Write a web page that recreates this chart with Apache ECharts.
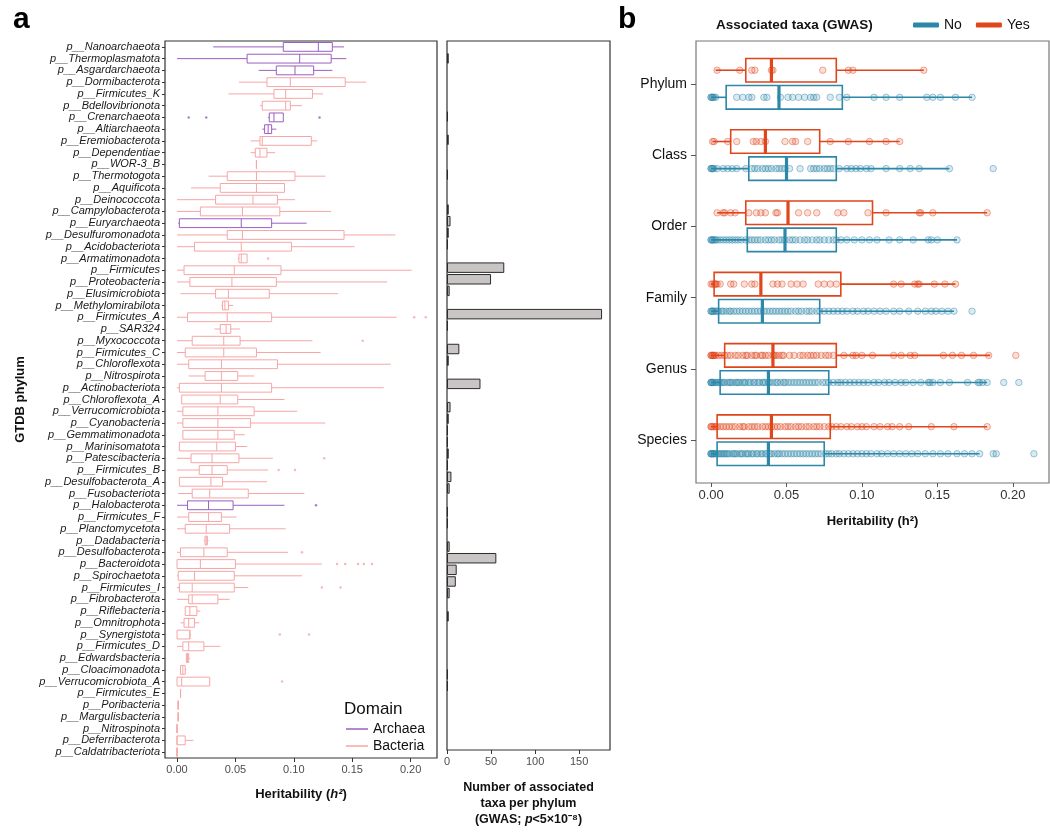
<!DOCTYPE html>
<html><head><meta charset="utf-8">
<script src="https://cdn.jsdelivr.net/npm/echarts@6/dist/echarts.min.js"></script>
<style>html,body{margin:0;padding:0;background:#fff}#c{width:1050px;height:833px}</style>
</head><body><div id="c"></div>
<script>
// ---------- Panel a data ----------
const phyla = ['p__Nanoarchaeota','p__Thermoplasmatota','p__Asgardarchaeota','p__Dormibacterota','p__Firmicutes_K','p__Bdellovibrionota','p__Crenarchaeota','p__Altiarchaeota','p__Eremiobacterota','p__Dependentiae','p__WOR-3_B','p__Thermotogota','p__Aquificota','p__Deinococcota','p__Campylobacterota','p__Euryarchaeota','p__Desulfuromonadota','p__Acidobacteriota','p__Armatimonadota','p__Firmicutes','p__Proteobacteria','p__Elusimicrobiota','p__Methylomirabilota','p__Firmicutes_A','p__SAR324','p__Myxococcota','p__Firmicutes_C','p__Chloroflexota','p__Nitrospirota','p__Actinobacteriota','p__Chloroflexota_A','p__Verrucomicrobiota','p__Cyanobacteria','p__Gemmatimonadota','p__Marinisomatota','p__Patescibacteria','p__Firmicutes_B','p__Desulfobacterota_A','p__Fusobacteriota','p__Halobacterota','p__Firmicutes_F','p__Planctomycetota','p__Dadabacteria','p__Desulfobacterota','p__Bacteroidota','p__Spirochaetota','p__Firmicutes_I','p__Fibrobacterota','p__Riflebacteria','p__Omnitrophota','p__Synergistota','p__Firmicutes_D','p__Edwardsbacteria','p__Cloacimonadota','p__Verrucomicrobiota_A','p__Firmicutes_E','p__Poribacteria','p__Margulisbacteria','p__Nitrospinota','p__Deferribacterota','p__Caldatribacteriota'];
const archaeaPhyla = ['p__Nanoarchaeota','p__Thermoplasmatota','p__Asgardarchaeota','p__Crenarchaeota','p__Altiarchaeota','p__Euryarchaeota','p__Halobacterota'];
const hLow  = [0.031,0.000,0.070,0.053,0.044,0.071,0.078,0.073,0.063,0.063,0.068,0.027,0.012,0.000,0.000,0.001,0.000,0.000,0.052,0.000,0.000,0.003,0.038,0.000,0.032,0.000,0.000,0.000,0.010,0.000,0.004,0.000,0.000,0.005,0.002,0.000,0.000,0.002,0.001,0.000,0.000,0.000,0.023,0.000,0.000,0.000,0.000,0.000,0.007,0.003,0.000,0.000,0.008,0.003,0.000,0.003,0.001,0.001,0.000,0.000,0.000];
const hQ1   = [0.091,0.060,0.085,0.077,0.083,0.073,0.079,0.075,0.071,0.067,0.068,0.043,0.037,0.033,0.020,0.002,0.043,0.015,0.053,0.006,0.011,0.033,0.039,0.009,0.037,0.013,0.007,0.010,0.024,0.002,0.004,0.005,0.005,0.005,0.002,0.012,0.019,0.002,0.013,0.009,0.010,0.007,0.024,0.003,0.000,0.001,0.002,0.010,0.007,0.006,0.000,0.005,0.008,0.003,0.000,0.003,0.001,0.001,0.000,0.000,0.000];
const hMed  = [0.121,0.105,0.101,0.097,0.093,0.093,0.083,0.078,0.073,0.071,0.068,0.068,0.068,0.065,0.056,0.055,0.056,0.055,0.055,0.049,0.047,0.044,0.041,0.043,0.042,0.040,0.040,0.038,0.038,0.038,0.037,0.035,0.035,0.035,0.034,0.030,0.030,0.029,0.028,0.027,0.027,0.025,0.025,0.023,0.020,0.015,0.013,0.013,0.011,0.010,0.011,0.010,0.009,0.005,0.004,0.003,0.001,0.001,0.000,0.000,0.000];
const hQ3   = [0.133,0.132,0.117,0.144,0.116,0.097,0.091,0.081,0.115,0.077,0.068,0.101,0.092,0.086,0.088,0.081,0.143,0.098,0.060,0.089,0.085,0.079,0.044,0.081,0.046,0.054,0.068,0.086,0.052,0.081,0.052,0.066,0.063,0.049,0.050,0.053,0.043,0.039,0.061,0.048,0.038,0.045,0.026,0.043,0.050,0.049,0.049,0.035,0.017,0.015,0.011,0.023,0.010,0.007,0.028,0.003,0.001,0.001,0.000,0.007,0.000];
const hHigh = [0.143,0.145,0.133,0.162,0.125,0.107,0.091,0.085,0.120,0.084,0.068,0.127,0.092,0.101,0.132,0.111,0.187,0.152,0.060,0.201,0.180,0.138,0.048,0.188,0.054,0.116,0.123,0.183,0.066,0.177,0.092,0.103,0.127,0.058,0.060,0.082,0.078,0.077,0.109,0.092,0.051,0.093,0.027,0.095,0.124,0.107,0.061,0.045,0.020,0.019,0.012,0.037,0.011,0.008,0.028,0.003,0.001,0.001,0.000,0.014,0.000];
const hOutliers = [['p__Crenarchaeota',0.010],['p__Crenarchaeota',0.025],['p__Crenarchaeota',0.122],['p__Armatimonadota',0.078],['p__Firmicutes_A',0.203],['p__Firmicutes_A',0.213],['p__Myxococcota',0.159],['p__Patescibacteria',0.126],['p__Firmicutes_B',0.087],['p__Firmicutes_B',0.101],['p__Halobacterota',0.119],['p__Desulfobacterota',0.107],['p__Bacteroidota',0.137],['p__Bacteroidota',0.144],['p__Bacteroidota',0.155],['p__Bacteroidota',0.160],['p__Bacteroidota',0.167],['p__Firmicutes_I',0.124],['p__Firmicutes_I',0.140],['p__Synergistota',0.088],['p__Synergistota',0.113],['p__Verrucomicrobiota_A',0.090]];
const gwasCounts = [0,2,0,0,0,0,1,0,2,0,0,1,0,0,2,4,2,1,0,65,50,3,0,176,1,0,14,2,0,38,0,4,2,1,1,2,1,5,3,0,1,1,0,3,56,11,10,3,0,2,0,0,0,0,1,1,0,0,0,0,0];
const hTicks = [0,0.05,0.10,0.15,0.20];
const countTicks = [0,50,100,150];

// ---------- Panel b data ----------
const levels = ['Phylum','Class','Order','Family','Genus','Species'];
// [low, q1, median, q3, high]
const yesStats = [[0.003,0.023,0.040,0.083,0.141],[0.001,0.013,0.036,0.072,0.125],[0.004,0.023,0.051,0.107,0.183],[0.000,0.002,0.033,0.086,0.162],[0.000,0.009,0.041,0.083,0.185],[0.000,0.004,0.040,0.079,0.183]];
const noStats  = [[0.000,0.010,0.045,0.087,0.173],[0.000,0.025,0.050,0.083,0.158],[0.000,0.024,0.049,0.083,0.163],[0.000,0.005,0.034,0.072,0.161],[0.000,0.006,0.038,0.078,0.183],[0.000,0.004,0.038,0.075,0.178]];
const yesPoints = [
  [0.004,0.019,0.027,0.029,0.040,0.041,0.074,0.091,0.094,0.141],
  [0.001,0.002,0.011,0.017,0.028,0.030,0.033,0.036,0.049,0.054,0.056,0.064,0.079,0.091,0.105,0.116,0.125],
  [0.004,0.008,0.009,0.013,0.016,0.025,0.030,0.033,0.036,0.043,0.044,0.058,0.064,0.070,0.084,0.088,0.104,0.116,0.138,0.139,0.147,0.183],
  [0.000,0.001,0.002,0.003,0.003,0.004,0.006,0.013,0.015,0.022,0.027,0.029,0.041,0.044,0.047,0.053,0.057,0.061,0.071,0.075,0.079,0.083,0.121,0.126,0.135,0.137,0.138,0.148,0.155,0.162],
  [0.000,0.000,0.001,0.001,0.002,0.002,0.003,0.005,0.007,0.009,0.011,0.013,0.016,0.018,0.021,0.023,0.024,0.027,0.029,0.030,0.033,0.034,0.036,0.038,0.041,0.042,0.043,0.045,0.047,0.048,0.052,0.055,0.059,0.061,0.064,0.066,0.068,0.070,0.073,0.076,0.078,0.081,0.088,0.094,0.096,0.100,0.107,0.121,0.126,0.132,0.135,0.154,0.160,0.166,0.174,0.184,0.202],
  [0.000,0.000,0.001,0.002,0.003,0.004,0.006,0.008,0.010,0.012,0.014,0.016,0.019,0.021,0.022,0.025,0.027,0.029,0.031,0.034,0.036,0.038,0.040,0.042,0.044,0.046,0.049,0.051,0.053,0.056,0.058,0.060,0.063,0.065,0.068,0.070,0.072,0.075,0.078,0.080,0.083,0.086,0.090,0.093,0.097,0.100,0.103,0.108,0.112,0.117,0.120,0.125,0.131,0.146,0.161,0.183]
];
const noPoints = [
  [0.000,0.000,0.001,0.001,0.002,0.003,0.017,0.021,0.025,0.027,0.035,0.037,0.046,0.051,0.054,0.058,0.062,0.066,0.068,0.070,0.079,0.085,0.090,0.108,0.116,0.125,0.143,0.147,0.152,0.162,0.173],
  [0.000,0.000,0.001,0.001,0.002,0.004,0.008,0.011,0.014,0.017,0.023,0.027,0.029,0.031,0.034,0.036,0.038,0.040,0.043,0.045,0.047,0.049,0.052,0.059,0.066,0.068,0.070,0.072,0.075,0.077,0.079,0.081,0.085,0.090,0.093,0.096,0.099,0.103,0.106,0.116,0.125,0.132,0.138,0.158,0.187],
  [0.000,0.000,0.001,0.001,0.002,0.003,0.004,0.006,0.008,0.010,0.012,0.014,0.016,0.018,0.020,0.023,0.025,0.027,0.029,0.031,0.033,0.036,0.038,0.040,0.042,0.045,0.047,0.049,0.052,0.054,0.056,0.059,0.062,0.064,0.067,0.070,0.072,0.075,0.078,0.081,0.083,0.086,0.090,0.095,0.100,0.105,0.110,0.118,0.125,0.134,0.144,0.146,0.150,0.163],
  [0.000,0.000,0.001,0.001,0.002,0.003,0.004,0.005,0.007,0.008,0.010,0.012,0.013,0.015,0.017,0.019,0.021,0.023,0.025,0.027,0.029,0.031,0.033,0.035,0.037,0.039,0.041,0.043,0.045,0.047,0.049,0.051,0.053,0.056,0.058,0.060,0.063,0.065,0.067,0.070,0.072,0.075,0.078,0.081,0.084,0.087,0.090,0.094,0.097,0.101,0.104,0.108,0.112,0.116,0.121,0.125,0.131,0.137,0.142,0.146,0.149,0.153,0.157,0.161,0.173],
  [0.000,0.000,0.000,0.001,0.001,0.002,0.003,0.004,0.005,0.006,0.007,0.008,0.009,0.011,0.012,0.013,0.014,0.016,0.017,0.018,0.019,0.021,0.022,0.023,0.025,0.026,0.028,0.029,0.031,0.032,0.034,0.035,0.036,0.038,0.039,0.041,0.043,0.044,0.046,0.048,0.049,0.051,0.053,0.055,0.057,0.059,0.061,0.063,0.065,0.067,0.069,0.071,0.074,0.076,0.078,0.081,0.084,0.086,0.089,0.092,0.095,0.098,0.101,0.104,0.108,0.111,0.115,0.118,0.122,0.126,0.129,0.134,0.139,0.144,0.145,0.147,0.152,0.158,0.170,0.177,0.178,0.180,0.183,0.194,0.204],
  [0.000,0.000,0.000,0.001,0.001,0.002,0.002,0.003,0.004,0.005,0.006,0.007,0.008,0.009,0.010,0.011,0.012,0.014,0.015,0.016,0.017,0.019,0.020,0.021,0.023,0.024,0.025,0.027,0.028,0.030,0.031,0.033,0.034,0.036,0.037,0.039,0.040,0.042,0.044,0.045,0.047,0.049,0.051,0.053,0.055,0.057,0.059,0.061,0.063,0.065,0.067,0.069,0.071,0.073,0.076,0.078,0.080,0.083,0.085,0.088,0.091,0.094,0.097,0.100,0.103,0.106,0.110,0.113,0.117,0.121,0.125,0.129,0.133,0.137,0.142,0.147,0.152,0.157,0.163,0.168,0.173,0.178,0.187,0.189,0.214]
];
const bTicks = [0,0.05,0.10,0.15,0.20];

// ---------- styles ----------
const FONT = '"Liberation Sans", Arial, Helvetica, sans-serif';
const C_ARCH = '#9B5FC1', C_BACT = '#F6A6A6';
const C_NO = '#2D87A8', C_YES = '#E0461B';

function rowsFor(isArch) {
  const out = [];
  phyla.forEach((p, i) => {
    if ((archaeaPhyla.indexOf(p) >= 0) === isArch) out.push([hLow[i], hQ1[i], hMed[i], hQ3[i], hHigh[i], p]);
  });
  return out;
}
function renderBoxA(params, api) {
  const cat = api.value(5);
  const p = [0,1,2,3,4].map(k => api.coord([api.value(k), cat]));
  const bh = api.size([0, 1])[1] * 0.75;
  const color = api.visual('color');
  const y = p[0][1];
  const st = {stroke: color, lineWidth: 1, fill: 'none'};
  return {type: 'group', children: [
    {type: 'line', shape: {x1: p[0][0], y1: y, x2: p[1][0], y2: y}, style: st},
    {type: 'line', shape: {x1: p[3][0], y1: y, x2: p[4][0], y2: y}, style: st},
    {type: 'rect', shape: {x: p[1][0], y: y - bh/2, width: p[3][0] - p[1][0], height: bh}, style: st},
    {type: 'line', shape: {x1: p[2][0], y1: y - bh/2, x2: p[2][0], y2: y + bh/2}, style: st}
  ]};
}
function makeRenderB(offset) {
  return function (params, api) {
    const lv = api.value(5) + offset;
    const p = [0,1,2,3,4].map(k => api.coord([api.value(k), lv]));
    const bh = api.size([0, 0.33])[1];
    const color = api.visual('color');
    const y = p[0][1];
    const st = {stroke: color, lineWidth: 1.6, fill: 'none'};
    return {type: 'group', children: [
      {type: 'line', shape: {x1: p[0][0], y1: y, x2: p[1][0], y2: y}, style: st},
      {type: 'line', shape: {x1: p[3][0], y1: y, x2: p[4][0], y2: y}, style: st},
      {type: 'rect', shape: {x: p[1][0], y: y - bh/2, width: p[3][0] - p[1][0], height: bh}, style: st},
      {type: 'line', shape: {x1: p[2][0], y1: y - bh/2, x2: p[2][0], y2: y + bh/2}, style: {stroke: color, lineWidth: 3.2}}
    ]};
  };
}
const YES_OFF = -0.19, NO_OFF = 0.19;
function statsData(stats) { return stats.map((s, i) => s.concat([i])); }
function pointData(pts, off) {
  const out = [];
  pts.forEach((arr, i) => arr.forEach(v => out.push([v, i + off])));
  return out;
}

const chart = echarts.init(document.getElementById('c'), null, {renderer: 'canvas'});
const axisLab = {color: '#4d4d4d', fontFamily: FONT, fontSize: 11};
const option = {
  backgroundColor: '#fff',
  animation: false,
  textStyle: {fontFamily: FONT},
  title: [
    {text: 'a', left: 8, top: 0, textStyle: {fontSize: 30, fontWeight: 'bold', color: '#000', fontFamily: FONT}},
    {text: 'b', left: 613, top: 0, textStyle: {fontSize: 30, fontWeight: 'bold', color: '#000', fontFamily: FONT}},
    {text: 'Domain', left: 339, top: 696, textStyle: {fontSize: 17, fontWeight: 'normal', color: '#111', fontFamily: FONT}},
    {text: 'Associated taxa (GWAS)', left: 711, top: 13, textStyle: {fontSize: 13.5, fontWeight: 'bold', color: '#111', fontFamily: FONT}}
  ],
  legend: [
    {data: ['Archaea', 'Bacteria'], orient: 'vertical', left: 341, top: 717, icon: 'rect', itemWidth: 22, itemHeight: 1.5, itemGap: 3,
     textStyle: {fontSize: 14, color: '#111', fontFamily: FONT}, selectedMode: false},
    {data: ['No', 'Yes'], orient: 'horizontal', left: 908, top: 13, icon: 'roundRect', itemWidth: 26, itemHeight: 5, itemGap: 14,
     textStyle: {fontSize: 14, color: '#111', fontFamily: FONT}, selectedMode: false}
  ],
  grid: [
    {left: 165, top: 41, width: 272, height: 717, show: true, borderColor: '#333', borderWidth: 1.2, backgroundColor: 'transparent'},
    {left: 447, top: 41, width: 163, height: 717, show: true, borderColor: '#333', borderWidth: 1.2, backgroundColor: 'transparent'},
    {left: 696, top: 41, width: 353, height: 442, show: true, borderColor: '#777', borderWidth: 1.2, backgroundColor: 'transparent'}
  ],
  xAxis: [
    {gridIndex: 0, type: 'value', min: -0.0103, max: 0.2226, splitLine: {show: false}, axisLine: {show: false, onZero: false},
     axisTick: {show: true, length: 4, customValues: hTicks, lineStyle: {color: '#333'}},
     axisLabel: {customValues: hTicks, formatter: v => v.toFixed(2), ...axisLab, margin: 6},
     name: '{b|Heritability (}{i|h²}{b|)}', nameLocation: 'middle', nameGap: 30,
     nameTextStyle: {rich: {b: {fontSize: 13, fontWeight: 'bold', color: '#111', fontFamily: FONT}, i: {fontSize: 13, fontWeight: 'bold', fontStyle: 'italic', color: '#111', fontFamily: FONT}}}},
    {gridIndex: 1, type: 'value', min: 0, max: 185, splitLine: {show: false}, axisLine: {show: false, onZero: false},
     axisTick: {show: true, length: 4, customValues: countTicks, lineStyle: {color: '#333'}},
     axisLabel: {customValues: countTicks, ...axisLab, margin: 6},
     name: '{b|Number of associated}\n{b|taxa per phylum}\n{b|(GWAS; }{i|p}{b|<5×10⁻⁸)}', nameLocation: 'middle', nameGap: 30,
     nameTextStyle: {verticalAlign: 'top', lineHeight: 16, rich: {b: {fontSize: 12.5, fontWeight: 'bold', color: '#111', fontFamily: FONT, lineHeight: 16}, i: {fontSize: 12.5, fontWeight: 'bold', fontStyle: 'italic', color: '#111', fontFamily: FONT, lineHeight: 16}}}},
    {gridIndex: 2, type: 'value', min: -0.0100, max: 0.2240, splitLine: {show: false}, axisLine: {show: false, onZero: false},
     axisTick: {show: true, length: 4, customValues: bTicks, lineStyle: {color: '#555'}},
     axisLabel: {customValues: bTicks, formatter: v => v.toFixed(2), color: '#333', fontFamily: FONT, fontSize: 13, margin: 6},
     name: 'Heritability (h²)', nameLocation: 'middle', nameGap: 32,
     nameTextStyle: {fontSize: 13, fontWeight: 'bold', color: '#111', fontFamily: FONT}}
  ],
  yAxis: [
    {gridIndex: 0, type: 'category', data: phyla, inverse: true, axisLine: {show: false, onZero: false},
     axisTick: {show: true, alignWithLabel: true, length: 3, lineStyle: {color: '#333'}},
     axisLabel: {interval: 0, fontStyle: 'italic', fontSize: 11, color: '#1a1a1a', fontFamily: FONT, margin: 5},
     name: 'GTDB phylum', nameLocation: 'middle', nameRotate: 90, nameGap: 138,
     nameTextStyle: {fontSize: 13, fontWeight: 'bold', color: '#111', fontFamily: FONT}},
    {gridIndex: 1, type: 'category', data: phyla, inverse: true, axisLine: {show: false, onZero: false}, axisTick: {show: false}, axisLabel: {show: false}},
    {gridIndex: 2, type: 'value', min: -0.6, max: 5.6, inverse: true, splitLine: {show: false}, axisLine: {show: false, onZero: false},
     axisTick: {show: true, length: 5, customValues: [0,1,2,3,4,5], lineStyle: {color: '#555'}},
     axisLabel: {customValues: [0,1,2,3,4,5], formatter: v => levels[Math.round(v)], fontSize: 14, color: '#111', fontFamily: FONT, margin: 9}}
  ],
  series: [
    {type: 'bar', name: 'count', xAxisIndex: 1, yAxisIndex: 1, data: gwasCounts.map(v => v > 0 ? v : '-'), barCategoryGap: '10%',
     itemStyle: {color: '#C9C5C5', borderColor: '#2b2b2b', borderWidth: 1}},
    {type: 'scatter', name: 'outliers', xAxisIndex: 0, yAxisIndex: 0, symbolSize: 2.5,
     data: hOutliers.map(o => [o[1], o[0]]),
     itemStyle: {color: (p) => archaeaPhyla.indexOf(p.value[1]) >= 0 ? C_ARCH : C_BACT}},
    {type: 'custom', name: 'Archaea', xAxisIndex: 0, yAxisIndex: 0, renderItem: renderBoxA, itemStyle: {color: C_ARCH},
     encode: {x: [0,1,2,3,4], y: 5}, data: rowsFor(true)},
    {type: 'custom', name: 'Bacteria', xAxisIndex: 0, yAxisIndex: 0, renderItem: renderBoxA, itemStyle: {color: C_BACT},
     encode: {x: [0,1,2,3,4], y: 5}, data: rowsFor(false)},
    {type: 'scatter', name: 'No points', xAxisIndex: 2, yAxisIndex: 2, symbolSize: 6.5, data: pointData(noPoints, NO_OFF),
     itemStyle: {color: 'rgba(45,135,168,0.22)', borderColor: 'rgba(45,135,168,0.55)', borderWidth: 1}},
    {type: 'scatter', name: 'Yes points', xAxisIndex: 2, yAxisIndex: 2, symbolSize: 6.5, data: pointData(yesPoints, YES_OFF),
     itemStyle: {color: 'rgba(224,70,27,0.22)', borderColor: 'rgba(224,70,27,0.55)', borderWidth: 1}},
    {type: 'custom', name: 'No', xAxisIndex: 2, yAxisIndex: 2, renderItem: makeRenderB(NO_OFF), itemStyle: {color: C_NO},
     encode: {x: [0,1,2,3,4], y: 5}, data: statsData(noStats)},
    {type: 'custom', name: 'Yes', xAxisIndex: 2, yAxisIndex: 2, renderItem: makeRenderB(YES_OFF), itemStyle: {color: C_YES},
     encode: {x: [0,1,2,3,4], y: 5}, data: statsData(yesStats)}
  ]
};
chart.setOption(option);
</script></body></html>
